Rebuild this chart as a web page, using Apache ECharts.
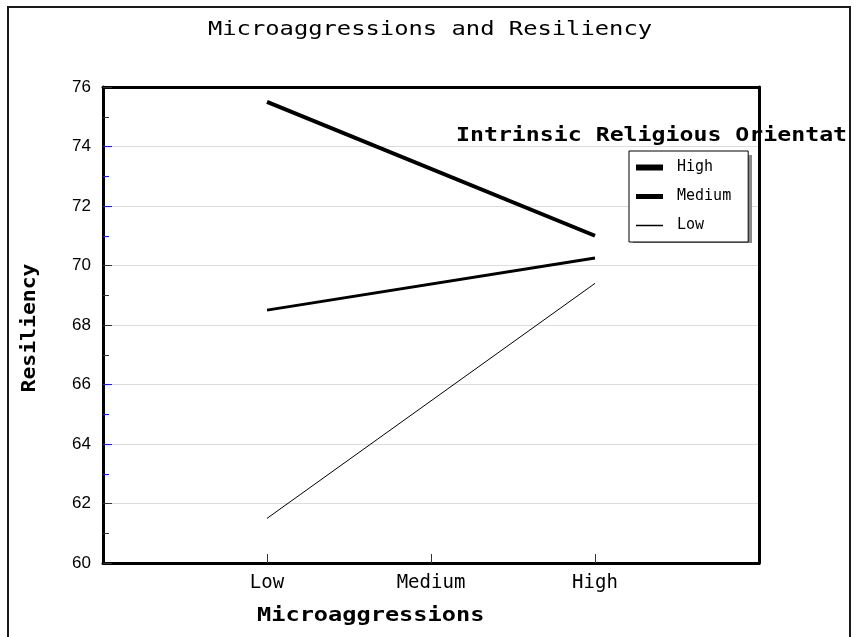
<!DOCTYPE html>
<html>
<head>
<meta charset="utf-8">
<script src="https://cdn.jsdelivr.net/npm/echarts@6/dist/echarts.min.js"></script>
<style>html,body{margin:0;padding:0;background:#fff;}#chart{width:854px;height:637px;}</style>
</head>
<body>
<div id="chart"></div>
<script>
const titleText = 'Microaggressions and Resiliency';
const xAxisName = 'Microaggressions';
const yAxisName = 'Resiliency';
const legendTitle = 'Intrinsic Religious Orientat';
const categories = ['Low', 'Medium', 'High'];
const seriesNames = ['High', 'Medium', 'Low'];
const highValues = [75.5, null, 71.0];
const mediumValues = [68.5, null, 70.25];
const lowValues = [61.5, null, 69.4];
const yMin = 60, yMax = 76, yStep = 2;

const axisCats = [''].concat(categories, ['']);
const pad = v => [null].concat(v, [null]);
const lineWidths = [4, 3, 1];
const legendThick = [6, 5, 1.5];
const valueSets = [highValues, mediumValues, lowValues];
const mono = 'DejaVu Sans Mono';
const blue = '#1a1aff';
const frame = {show: true, onZero: false, lineStyle: {color: '#000', width: 3}};

const chart = echarts.init(document.getElementById('chart'), null, {renderer: 'canvas'});
chart.setOption({
  animation: false,
  backgroundColor: '#fff',
  grid: {left: 103, right: 95, top: 87, bottom: 74, show: false},
  legend: {
    orient: 'vertical', left: 629, top: 151, z: 6,
    padding: [9, 17, 9, 7],
    itemWidth: 27, itemHeight: 14, itemGap: 14,
    symbolKeepAspect: true,
    backgroundColor: '#fff', borderColor: '#000', borderWidth: 1, borderRadius: 0,
    textStyle: {fontFamily: mono, fontSize: 15, color: '#000', padding: [0, 0, 0, 9]},
    data: seriesNames.map((n, i) => ({name: n, icon: 'path://M0,0H27V' + legendThick[i] + 'H0Z', itemStyle: {color: '#000'}}))
  },
  xAxis: [{
    type: 'category', data: axisCats, boundaryGap: false, position: 'bottom',
    axisLine: frame,
    axisTick: {show: true, inside: true, length: 9, lineStyle: {color: blue, width: 1}, interval: (idx) => idx >= 1 && idx <= categories.length},
    axisLabel: {interval: 0, margin: 11, fontFamily: mono, fontSize: 19, color: '#000'},
    splitLine: {show: false}
  }, {
    type: 'category', data: axisCats, boundaryGap: false, position: 'top',
    axisLine: frame, axisTick: {show: false}, axisLabel: {show: false}, splitLine: {show: false}
  }],
  yAxis: [{
    type: 'value', min: yMin, max: yMax, interval: yStep, position: 'left',
    axisLine: frame,
    axisTick: {show: true, inside: true, length: 9, lineStyle: {color: blue, width: 1}},
    minorTick: {show: true, splitNumber: 2, length: 6, lineStyle: {color: blue, width: 1}},
    axisLabel: {margin: 12, fontFamily: 'Liberation Sans', fontSize: 17, color: '#000'},
    splitLine: {show: true, lineStyle: {color: '#dcdcdc', width: 1}}
  }, {
    type: 'value', min: yMin, max: yMax, interval: yStep, position: 'right',
    axisLine: frame, axisTick: {show: false}, axisLabel: {show: false}, splitLine: {show: false}
  }],
  series: seriesNames.map((n, i) => ({
    name: n, type: 'line', data: pad(valueSets[i]), connectNulls: true,
    showSymbol: false, symbol: 'none',
    lineStyle: {color: '#000', width: lineWidths[i]},
    itemStyle: {color: '#000'}
  })),
  graphic: [
    {type: 'rect', shape: {x: 8, y: 7, width: 842, height: 700}, style: {fill: 'none', stroke: '#1a1a1a', lineWidth: 2}, silent: true},
    {type: 'rect', z: 5, shape: {x: 633, y: 155, width: 119, height: 88}, style: {fill: '#8a8a8a'}, silent: true},
    {type: 'text', x: 430, y: 30, scaleX: 1.19, style: {text: titleText, x: 0, y: 0, textAlign: 'center', textVerticalAlign: 'middle', font: 'normal 20px "DejaVu Sans Mono"', fill: '#000'}},
    {type: 'text', x: 456, y: 136, scaleX: 1.16, z: -1, style: {text: legendTitle, x: 0, y: 0, textAlign: 'left', textVerticalAlign: 'middle', font: 'bold 20px "DejaVu Sans Mono"', fill: '#000'}},
    {type: 'text', x: 257, y: 616, scaleX: 1.18, style: {text: xAxisName, x: 0, y: 0, textAlign: 'left', textVerticalAlign: 'middle', font: 'bold 20px "DejaVu Sans Mono"', fill: '#000'}},
    {type: 'text', x: 30, y: 328, rotation: Math.PI / 2, scaleX: 1.07, style: {text: yAxisName, x: 0, y: 0, textAlign: 'center', textVerticalAlign: 'middle', font: 'bold 20px "DejaVu Sans Mono"', fill: '#000'}}
  ]
});
</script>
</body>
</html>
